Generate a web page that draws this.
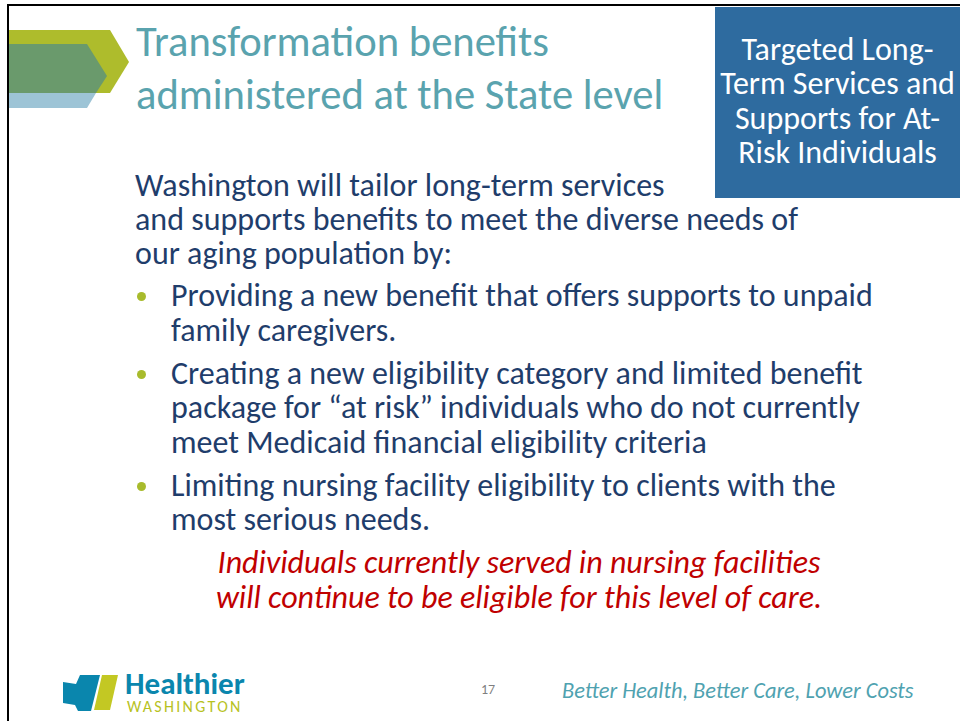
<!DOCTYPE html>
<html>
<head>
<meta charset="utf-8">
<script src="https://cdn.jsdelivr.net/npm/chart.js@4.4.0/dist/chart.umd.min.js"></script>
<style>
  html, body { margin: 0; padding: 0; background: #fff; }
  #slide { position: relative; width: 960px; height: 721px; overflow: hidden; font-family: Carlito, Lato, sans-serif; }
  .frame-top { position: absolute; left: 7px; top: 4px; width: 953px; height: 2px; background: #000; }
  .frame-left { position: absolute; left: 7px; top: 4px; width: 2px; height: 717px; background: #000; }
  .ln { position: absolute; white-space: nowrap; }
  .title { color: #5aa3ae; font-size: 42.6px; line-height: 53px; left: 136px; }
  .box { position: absolute; left: 715px; top: 7px; width: 245px; height: 191px; background: #2e6b9f; }
  .box .ln { color: #fff; font-size: 32px; line-height: 34px; width: 245px; text-align: center; left: 0; }
  .body { color: #1f3d6b; font-size: 32px; line-height: 34px; }
  .dot { position: absolute; width: 9px; height: 9px; border-radius: 50%; background: #a8bb2c; }
  .red { color: #c00000; font-style: italic; font-size: 32px; line-height: 35px; width: 700px; text-align: center; left: 169px; }
  .num { color: #7f7f7f; font-size: 14px; line-height: 16px; left: 481px; top: 682px; }
  .motto { color: #4fa2b0; font-style: italic; font-size: 22.4px; line-height: 24px; left: 562px; top: 679px; }
  .hl { color: #0a86ad; font-weight: bold; font-size: 31px; line-height: 28px; left: 125px; top: 669px; letter-spacing: 0px; }
  .wa { color: #b7c21f; font-size: 16px; line-height: 14px; left: 127px; top: 700px; letter-spacing: 2.3px; }
</style>
</head>
<body>
<div id="slide">
  <svg class="ln" style="left:0;top:0" width="140" height="120">
    <polygon points="8,93 96,93 87,108 8,108" fill="#9dc4d6"/>
    <polygon points="8,30 110,30 129,62 110,93 8,93" fill="#aebc2c"/>
    <polygon points="8,44 87,44 107,76 96,93 8,93" fill="#6a9a6c"/>
  </svg>
  <div class="frame-top"></div>
  <div class="frame-left"></div>
  <div id="titleLines"></div>
  <div class="box" id="box"></div>
  <div id="bodyLines"></div>
  <div id="bullets"></div>
  <div id="redLines"></div>
  <svg class="ln" style="left:55px;top:668px" width="70" height="50">
    <polygon points="8,14 21,16 25,7 45,7 36,43 23,43 20,37 8,35" fill="#0a86ad"/>
    <polygon points="47,7 63,7 55,42 39,42" fill="#c3c823"/>
  </svg>
  <div class="ln hl">Healthier</div>
  <div class="ln wa">WASHINGTON</div>
  <div class="ln num">17</div>
  <div class="ln motto">Better Health, Better Care, Lower Costs</div>
</div>
<script>
const titleText = ['Transformation benefits', 'administered at the State level'];
const boxText = ['Targeted Long-', 'Term Services and', 'Supports for At-', 'Risk Individuals'];
const introText = ['Washington will tailor long-term services', 'and supports benefits to meet the diverse needs of', 'our aging population by:'];
const bulletText = [
  ['Providing a new benefit that offers supports to unpaid', 'family caregivers.'],
  ['Creating a new eligibility category and limited benefit', 'package for \u201cat risk\u201d individuals who do not currently', 'meet Medicaid financial eligibility criteria'],
  ['Limiting nursing facility eligibility to clients with the', 'most serious needs.']
];
const noteText = ['Individuals currently served in nursing facilities', 'will continue to be eligible for this level of care.'];

function addLine(parent, cls, text, top, left) {
  const d = document.createElement('div');
  d.className = 'ln ' + cls;
  d.textContent = text;
  d.style.top = top + 'px';
  if (left !== undefined) d.style.left = left + 'px';
  parent.appendChild(d);
  return d;
}

const titleEl = document.getElementById('titleLines');
titleText.forEach((t, i) => addLine(titleEl, 'title', t, 15 + i * 53));

const boxEl = document.getElementById('box');
boxText.forEach((t, i) => addLine(boxEl, '', t, 26 + i * 34.3));

const bodyEl = document.getElementById('bodyLines');
introText.forEach((t, i) => addLine(bodyEl, 'body', t, 169 + i * 34, 135));

const bulletEl = document.getElementById('bullets');
let y = 279;
bulletText.forEach(lines => {
  const dot = document.createElement('div');
  dot.className = 'dot';
  dot.style.left = '137px';
  dot.style.top = (y + 13) + 'px';
  bulletEl.appendChild(dot);
  lines.forEach((t, i) => addLine(bulletEl, 'body', t, y + i * 34.5, 171));
  y += lines.length * 34.5 + 8.5;
});

const redEl = document.getElementById('redLines');
noteText.forEach((t, i) => addLine(redEl, 'red', t, 545 + i * 35));
</script>
</body>
</html>
